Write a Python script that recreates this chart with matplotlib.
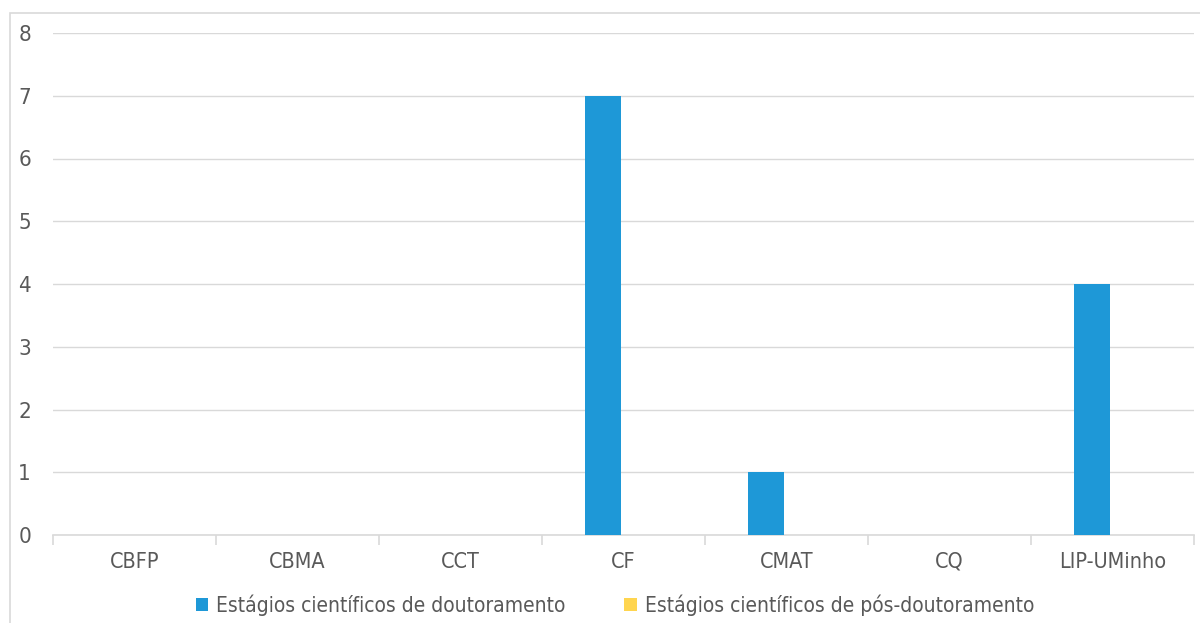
import matplotlib
matplotlib.use("Agg")
import matplotlib.pyplot as plt
from matplotlib.patches import Rectangle
import numpy as np

categories = ["CBFP", "CBMA", "CCT", "CF", "CMAT", "CQ", "LIP-UMinho"]
doutoramento = [0, 0, 0, 7, 1, 0, 4]
pos_doutoramento = [0, 0, 0, 0, 0, 0, 0]
series_names = ["Estágios científicos de doutoramento",
                "Estágios científicos de pós-doutoramento"]
yticks = [0, 1, 2, 3, 4, 5, 6, 7, 8]

plt.rcParams["font.family"] = ["DejaVu Sans"]
plt.rcParams["font.stretch"] = "condensed"

text_color = "#595959"
grid_color = "#d9d9d9"
blue = "#1e98d7"
yellow = "#ffd54f"

fig = plt.figure(figsize=(12, 6.23), dpi=100)
fig.patches.append(Rectangle((10 / 1200, -0.1), 1.2, 1 - 13 / 623 + 0.1,
                             transform=fig.transFigure, fill=False,
                             edgecolor=grid_color, linewidth=1.2))
ax = fig.add_axes([53 / 1200, 1 - 535 / 623, (1194 - 53) / 1200, (535 - 33) / 623])

x = np.arange(len(categories))
w = 0.22
ax.bar(x - 0.128, doutoramento, width=w, color=blue, label=series_names[0], zorder=3)
ax.bar(x + 0.128, pos_doutoramento, width=w, color=yellow, label=series_names[1], zorder=3)

ax.set_xlim(-0.5, len(categories) - 0.5)
ax.set_ylim(0, 8)
ax.set_yticks(yticks)
ax.yaxis.grid(True, color=grid_color, linewidth=1)
ax.set_axisbelow(True)
for s in ["top", "right", "left"]:
    ax.spines[s].set_visible(False)
ax.spines["bottom"].set_color(grid_color)
ax.spines["bottom"].set_linewidth(1.2)

ax.set_xticks(x)
ax.set_xticklabels(categories)
ax.tick_params(axis="x", length=0, pad=12, labelsize=15.5, labelcolor=text_color)
ax.set_xticks(np.arange(len(categories) + 1) - 0.5, minor=True)
ax.tick_params(axis="x", which="minor", length=7, color=grid_color, width=1.2)
ax.tick_params(axis="y", length=0, pad=25, labelsize=16, labelcolor=text_color)
for lab in ax.get_yticklabels():
    lab.set_horizontalalignment("left")

leg = fig.legend(loc="center", bbox_to_anchor=(615 / 1200, 1 - 605 / 623), ncol=2,
                 frameon=False, fontsize=15, labelcolor=text_color,
                 handlelength=0.6, handleheight=0.6, handletextpad=0.4,
                 columnspacing=2.8)

fig.savefig("out.png", dpi=100)
